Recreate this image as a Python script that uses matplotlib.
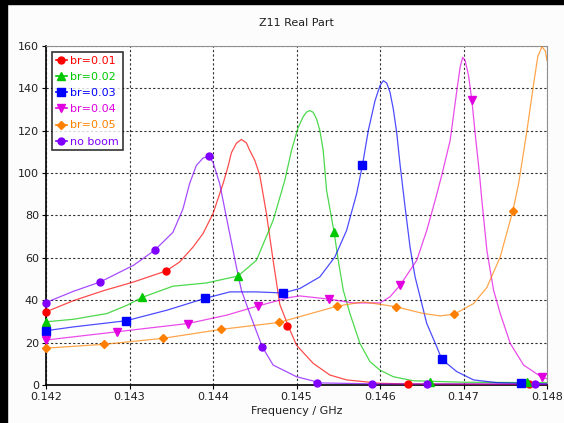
import numpy as np
import matplotlib
matplotlib.use('Agg')
import matplotlib.pyplot as plt
from matplotlib.lines import Line2D
from matplotlib.patches import Rectangle

# curve points (GHz, Ohm)
red_f = [0.142, 0.14233, 0.14269, 0.14305, 0.14344, 0.1436, 0.14376, 0.14388, 0.144, 0.14412,
         0.14418, 0.14422, 0.14428, 0.14434, 0.1444, 0.14444, 0.1445, 0.14456, 0.14464, 0.14472,
         0.1448, 0.1449, 0.145, 0.1452, 0.1454, 0.1456, 0.146, 0.14633, 0.147, 0.148]
red_v = [34.5, 39.8, 44.5, 48.6, 53.8, 58.0, 65.0, 71.4, 80.8, 94.9,
         103.0, 109.5, 114.0, 115.8, 114.2, 110.6, 106.0, 99.0, 80.8, 58.8,
         38.0, 27.9, 18.8, 10.2, 4.7, 2.4, 0.8, 0.5, 0.4, 0.3]

green_f = [0.142, 0.14233, 0.14273, 0.14297, 0.14315, 0.14352, 0.14392, 0.1443, 0.14452, 0.14472,
           0.14486, 0.14494, 0.14502, 0.14508, 0.14512, 0.14516, 0.1452, 0.14524, 0.14528, 0.14532,
           0.14536, 0.14545, 0.1455, 0.14556, 0.14564, 0.14576, 0.14588, 0.146, 0.14616, 0.1464,
           0.147, 0.148]
green_v = [29.8, 31.0, 33.7, 37.6, 41.3, 46.6, 48.1, 51.4, 58.8, 77.6,
           96.5, 110.6, 121.5, 126.5, 128.7, 129.4, 128.6, 125.5, 120.0, 110.6,
           91.8, 72.1, 58.8, 44.7, 33.7, 19.6, 11.0, 7.0, 3.9, 2.0,
           1.3, 1.1]

blue_f = [0.142, 0.14233, 0.14296, 0.14345, 0.1439, 0.1442, 0.14452, 0.14484, 0.14504, 0.14528,
          0.14546, 0.1456, 0.14572, 0.14579, 0.14586, 0.14594, 0.146, 0.14604, 0.14608, 0.14612,
          0.14616, 0.1462, 0.14624, 0.1463, 0.14636, 0.14642, 0.14656, 0.14668, 0.14674, 0.14692,
          0.14712, 0.1474, 0.148]
blue_v = [25.6, 27.4, 30.3, 35.3, 40.8, 43.9, 43.9, 43.4, 45.5, 51.0,
          60.4, 72.9, 90.2, 103.7, 120.0, 134.0, 141.2, 143.5, 142.4, 138.0,
          130.0, 119.0, 104.0, 84.0, 65.0, 51.0, 29.0, 18.0, 12.1, 6.3,
          2.4, 1.1, 0.5]

mag_f = [0.142, 0.14285, 0.1437, 0.14416, 0.14454, 0.14492, 0.14504, 0.14539, 0.14568, 0.146,
         0.14612, 0.14624, 0.14644, 0.14656, 0.14666, 0.14674, 0.14684, 0.14692, 0.14696, 0.14699,
         0.14702, 0.14706, 0.1471, 0.14714, 0.14719, 0.14722, 0.14728, 0.14736, 0.14744, 0.14756,
         0.14772, 0.14794, 0.148]
mag_v = [21.2, 25.1, 29.0, 32.9, 37.3, 41.3, 42.0, 40.5, 38.7, 38.7,
         41.6, 47.0, 58.8, 72.9, 87.0, 99.0, 115.3, 138.8, 150.0, 154.5,
         153.0, 146.0, 134.4, 118.4, 100.0, 87.0, 63.5, 44.7, 33.7, 19.6,
         9.4, 3.6, 3.0]

orange_f = [0.142, 0.1427, 0.1434, 0.14409, 0.14479, 0.14549, 0.1458, 0.14619, 0.14652, 0.14672,
            0.14689, 0.14712, 0.14728, 0.14744, 0.14759, 0.14766, 0.14776, 0.14784, 0.14789, 0.14794,
            0.14798, 0.148]
orange_v = [17.4, 19.2, 22.0, 26.2, 29.5, 37.2, 39.2, 36.9, 33.7, 32.6,
            33.4, 38.4, 46.0, 60.4, 82.0, 94.9, 120.0, 142.0, 155.0, 159.5,
            157.5, 153.0]

purple_f = [0.142, 0.14233, 0.14265, 0.14305, 0.1433, 0.14352, 0.14364, 0.14372, 0.1438, 0.14388,
            0.14395, 0.144, 0.14408, 0.14416, 0.14428, 0.14434, 0.14444, 0.14459, 0.14472, 0.14492,
            0.145, 0.1452, 0.14525, 0.146, 0.147, 0.148]
purple_v = [38.9, 44.2, 48.6, 56.5, 63.5, 72.0, 83.0, 95.0, 103.5, 107.0,
            107.8, 105.0, 95.0, 79.2, 55.7, 44.7, 33.7, 18.0, 9.4, 5.5,
            3.9, 1.9, 1.0, 0.5, 0.5, 0.4]

# marker points
red_mf = [0.142, 0.14344, 0.14489, 0.14633, 0.14778]
red_mv = [34.5, 53.8, 27.9, 0.5, 0.3]
green_mf = [0.142, 0.14315, 0.1443, 0.14545, 0.1466, 0.14776]
green_mv = [29.8, 41.3, 51.4, 72.1, 1.5, 1.2]
blue_mf = [0.142, 0.14296, 0.1439, 0.14484, 0.14579, 0.14674, 0.14769]
blue_mv = [25.6, 30.3, 40.8, 43.4, 103.7, 12.1, 0.8]
mag_mf = [0.142, 0.14285, 0.1437, 0.14454, 0.14539, 0.14624, 0.1471, 0.14794]
mag_mv = [21.2, 25.1, 29.0, 37.3, 40.5, 47.0, 134.4, 3.6]
orange_mf = [0.142, 0.1427, 0.1434, 0.14409, 0.14479, 0.14549, 0.14619, 0.14689, 0.14759]
orange_mv = [17.4, 19.2, 22.0, 26.2, 29.5, 37.2, 36.9, 33.4, 82.0]
purple_mf = [0.142, 0.14265, 0.1433, 0.14395, 0.14459, 0.14525, 0.1459, 0.14656, 0.14786]
purple_mv = [38.9, 48.6, 63.5, 107.8, 18.0, 1.0, 0.5, 0.6, 0.4]

labels = ['br=0.01', 'br=0.02', 'br=0.03', 'br=0.04', 'br=0.05', 'no boom']
colors = ['#ff0000', '#00c800', '#0000ff', '#e000e0', '#ff8000', '#8000ff']
markers = ['o', '^', 's', 'v', 'D', 'o']
msizes = [5, 6, 5.5, 6, 4.5, 5]

curves = [(red_f, red_v), (green_f, green_v), (blue_f, blue_v),
          (mag_f, mag_v), (orange_f, orange_v), (purple_f, purple_v)]
marks = [(red_mf, red_mv), (green_mf, green_mv), (blue_mf, blue_mv),
         (mag_mf, mag_mv), (orange_mf, orange_mv), (purple_mf, purple_mv)]

fig = plt.figure(figsize=(5.64, 4.23), dpi=100, facecolor='#fbfcfb')
ax = fig.add_axes([46/564, 1-385/423, (547-46)/564, (385-45.7)/423])
ax.set_facecolor('white')

for (f, v), (mf, mv), c, m, ms in zip(curves, marks, colors, markers, msizes):
    ax.plot(f, v, color=c, lw=0.9, alpha=0.7, zorder=3)
    ax.plot(mf, mv, ls='none', marker=m, color=c, ms=ms, zorder=4, clip_on=False)

ax.set_xlim(0.142, 0.148)
ax.set_ylim(0, 160)
ax.set_xticks(np.arange(0.142, 0.14801, 0.001))
ax.set_xticklabels(['0.142', '0.143', '0.144', '0.145', '0.146', '0.147', '0.148'])
ax.set_yticks(np.arange(0, 161, 20))
ax.grid(True, color='#303030', lw=0.8, ls=(0, (2, 2)))
ax.tick_params(labelsize=8, length=3, colors='black', labelcolor='#202020', pad=2)
ax.spines['top'].set_color('#909090')
ax.spines['right'].set_color('#909090')
ax.spines['left'].set_linewidth(1.2)
ax.spines['bottom'].set_linewidth(1.2)

ax.set_title('Z11 Real Part', fontsize=8, color='#202020', pad=14)
ax.set_xlabel('Frequency / GHz', fontsize=8, color='#202020', labelpad=3)

handles = [Line2D([0], [0], color=c, marker=m, ms=ms, lw=1.2) for c, m, ms in zip(colors, markers, msizes)]
leg = ax.legend(handles, labels, loc='upper left', fontsize=8, frameon=True, fancybox=False,
                edgecolor='black', handlelength=1.0, handletextpad=0.3, borderpad=0.35,
                labelspacing=0.55, borderaxespad=0, bbox_to_anchor=(0.012, 0.981))
leg.get_frame().set_linewidth(1.2)
for t, c in zip(leg.get_texts(), colors):
    t.set_color(c)

# black frame on top and left of the screenshot
fig.patches.append(Rectangle((0, 1-4/423), 1, 4/423, transform=fig.transFigure, color='black'))
fig.patches.append(Rectangle((0, 0), 7/564, 1, transform=fig.transFigure, color='black'))

fig.savefig('out.png', dpi=100, facecolor=fig.get_facecolor())
